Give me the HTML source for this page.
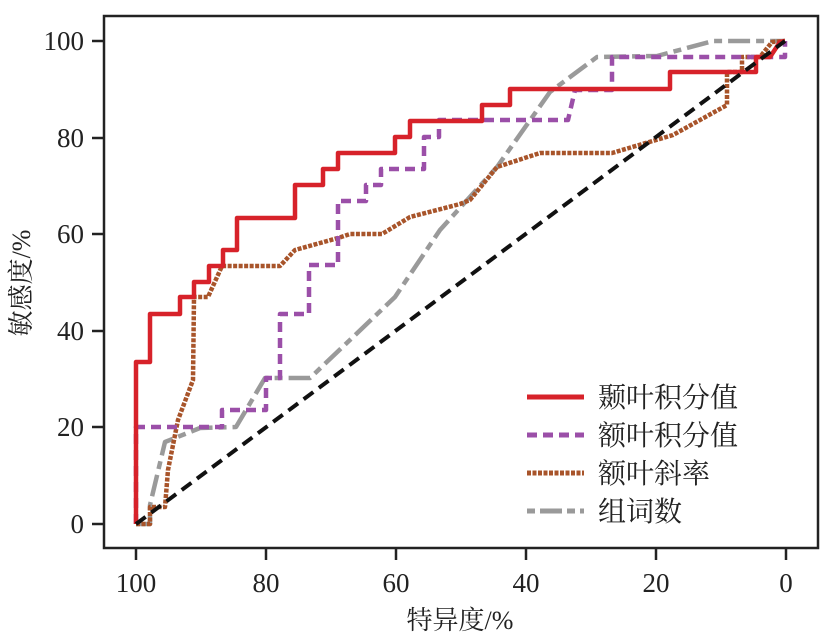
<!DOCTYPE html>
<html><head><meta charset="utf-8"><style>
html,body{margin:0;padding:0;background:#fff;}
svg{display:block;}
text{font-family:"Liberation Serif","Noto Serif CJK SC",serif;fill:#222;}
</style></head><body>
<svg width="835" height="635" viewBox="0 0 835 635" xmlns="http://www.w3.org/2000/svg">
<rect x="104" y="16" width="714" height="532" fill="none" stroke="#222" stroke-width="2.5"/>
<g stroke="#222" stroke-width="2.5">
<line x1="92" y1="41" x2="104" y2="41"/><line x1="92" y1="138" x2="104" y2="138"/>
<line x1="92" y1="234" x2="104" y2="234"/><line x1="92" y1="331" x2="104" y2="331"/>
<line x1="92" y1="427" x2="104" y2="427"/><line x1="92" y1="524" x2="104" y2="524"/>
<line x1="136" y1="548" x2="136" y2="560"/><line x1="266" y1="548" x2="266" y2="560"/>
<line x1="396" y1="548" x2="396" y2="560"/><line x1="526" y1="548" x2="526" y2="560"/>
<line x1="656" y1="548" x2="656" y2="560"/><line x1="786" y1="548" x2="786" y2="560"/>
</g>
<g font-size="27" text-anchor="end">
<text x="84" y="50">100</text><text x="84" y="147">80</text><text x="84" y="243">60</text>
<text x="84" y="340">40</text><text x="84" y="436">20</text><text x="84" y="533">0</text>
</g>
<g font-size="27" text-anchor="middle">
<text x="136" y="592">100</text><text x="266" y="592">80</text><text x="396" y="592">60</text>
<text x="526" y="592">40</text><text x="656" y="592">20</text><text x="786" y="592">0</text>
</g>
<text x="460" y="629" font-size="26" text-anchor="middle">特异度/%</text>
<text transform="translate(30,283) rotate(-90)" font-size="26" text-anchor="middle">敏感度/%</text>
<g fill="none" stroke-linejoin="round">
<polyline stroke="#9a9a9a" stroke-width="4.5" stroke-dasharray="22,6,8,6" points="136,524 150,524 150,505 165,442 200,428 236,427 265,378 310,378 395,297 440,230 497,167 550,92 597,57 657,56 713,41 785,41"/>
<polyline stroke="#a8542a" stroke-width="4.5" stroke-dasharray="4,1.5" points="136,524 150,524 150,507 165,507 168,470 178,420 193,380 194,297 208,297 222,266 280,266 295,250 338,238 350,234 382,234 410,217 460,204 470,200 497,167 540,153 612,153 673,135 727,105 727,72 742,72 742,57 760,57 772,42 785,41"/>
<polyline stroke="#9b4fa8" stroke-width="4.5" stroke-dasharray="10,6" points="136,524 136,427 222,427 222,410 266,410 266,378 280,378 280,314 309,314 309,265 338,265 338,201 366,201 366,185 381,185 381,169 424,169 424,137 439,137 439,120 568,120 575,90 612,90 612,57 785,57 785,41"/>
<polyline stroke="#d7222a" stroke-width="4.5" points="136,524 136,362 150,362 150,314 180,314 180,297 194,297 194,282 209,282 209,266 223,266 223,250 237,250 237,218 295,218 295,185 323,185 323,169 338,169 338,153 395,153 395,137 410,137 410,121 482,121 482,105 510,105 510,89 670,89 670,72 756,72 756,57 770,57 780,42 785,41"/>
<line x1="136" y1="524" x2="785" y2="41" stroke="#111" stroke-width="4" stroke-dasharray="12,7"/>
</g>
<g fill="none" stroke-width="5">
<line x1="527" y1="397" x2="584" y2="397" stroke="#d7222a"/>
<line x1="527" y1="435" x2="584" y2="435" stroke="#9b4fa8" stroke-dasharray="10,6"/>
<line x1="527" y1="473" x2="584" y2="473" stroke="#a8542a" stroke-dasharray="4,1.5"/>
<line x1="527" y1="511" x2="584" y2="511" stroke="#9a9a9a" stroke-dasharray="8,5,22,5"/>
</g>
<g font-size="28">
<text x="598" y="407">颞叶积分值</text>
<text x="598" y="445">额叶积分值</text>
<text x="598" y="483">额叶斜率</text>
<text x="598" y="521">组词数</text>
</g>
</svg>
</body></html>
